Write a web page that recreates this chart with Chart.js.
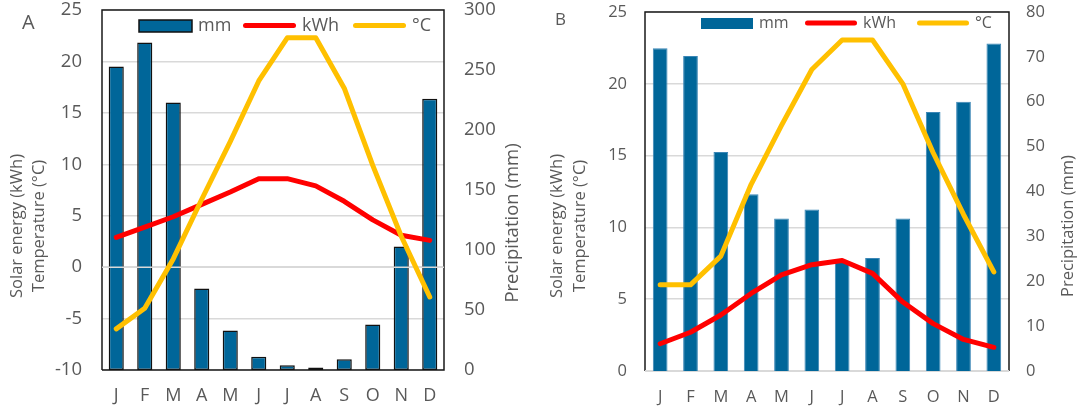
<!DOCTYPE html>
<html>
<head>
<meta charset="utf-8">
<script src="https://cdn.jsdelivr.net/npm/chart.js@4.4.1/dist/chart.umd.min.js"></script>
<style>
  html, body { margin: 0; padding: 0; background: #fff; }
  #wrap { position: relative; width: 1085px; height: 412px; overflow: hidden; }
  .panel { position: absolute; top: 0; height: 412px; }
  #pa { left: 0; width: 540px; }
  #pb { left: 540px; width: 545px; }
  .tag { position: absolute; color: #595959; font-family: "Open Sans", sans-serif; line-height: normal; }
</style>
</head>
<body>
<div id="wrap">
  <div class="panel" id="pa"><canvas id="ca" width="540" height="412"></canvas></div>
  <div class="panel" id="pb"><canvas id="cb" width="545" height="412"></canvas></div>
  <div class="tag" style="left:22px;top:8px;font-size:20px;">A</div>
  <div class="tag" style="left:555px;top:7px;font-size:17px;">B</div>
</div>
<script>
// Monthly climate data for two sites
const months = ['J', 'F', 'M', 'A', 'M', 'J', 'J', 'A', 'S', 'O', 'N', 'D'];

// Site A
const precipA = [253, 273, 223, 68, 33, 11, 4, 2, 9, 38, 103, 226];
const solarA  = [2.9, 3.9, 4.9, 6.1, 7.3, 8.6, 8.6, 7.9, 6.4, 4.6, 3.1, 2.6];
const tempA   = [-6.0, -4.0, 0.8, 6.6, 12.2, 18.1, 22.3, 22.3, 17.4, 9.9, 3.0, -2.9];

// Site B
const precipB = [71.9, 70.2, 48.8, 39.4, 34.0, 36.0, 24.5, 25.2, 34.0, 57.7, 60.0, 73.0];
const solarB  = [1.9, 2.7, 3.9, 5.4, 6.7, 7.4, 7.7, 6.8, 4.8, 3.3, 2.2, 1.65];
const tempB   = [6.0, 6.0, 8.0, 13.0, 17.1, 21.0, 23.05, 23.05, 20.0, 15.2, 10.9, 6.9];

// Labels
const seriesNames = ['mm', 'kWh', '°C'];
const leftTitle = ['Solar energy (kWh)', 'Temperature (°C)'];
const rightTitle = ['Precipitation (mm)'];

const TEXT = '#595959';
const GRID = '#d9d9d9';
const BAR = '#006699';
const RED = '#ff0000';
const GOLD = '#ffc000';
const FONT = '"Open Sans", sans-serif';

// Legend drawn inside the plot area, at the top
const legendInside = {
  id: 'legendInside',
  afterDraw(chart, args, opts) {
    const ctx = chart.ctx;
    const ds = chart.data.datasets;
    ctx.save();
    ctx.font = opts.size + 'px ' + FONT;
    ctx.textBaseline = 'middle';
    opts.xs.forEach((x, i) => {
      const d = ds[i];
      const y = opts.y;
      if (d.type === 'bar') {
        ctx.fillStyle = d.backgroundColor;
        ctx.fillRect(x, y - opts.boxH / 2, opts.swatch, opts.boxH);
        if (opts.boxBorder) {
          ctx.strokeStyle = opts.boxBorder;
          ctx.lineWidth = 1.5;
          ctx.strokeRect(x, y - opts.boxH / 2, opts.swatch, opts.boxH);
        }
      } else {
        ctx.strokeStyle = d.borderColor;
        ctx.lineWidth = d.borderWidth;
        ctx.lineCap = 'round';
        ctx.beginPath();
        ctx.moveTo(x + 2.5, y - 0.5);
        ctx.lineTo(x + opts.swatch - 2.5, y - 0.5);
        ctx.stroke();
      }
      ctx.fillStyle = TEXT;
      ctx.fillText(d.label, x + opts.swatch + 6, y);
    });
    ctx.restore();
  }
};

// Rotated axis titles
const sideTitles = {
  id: 'sideTitles',
  afterDraw(chart, args, opts) {
    const ctx = chart.ctx;
    opts.items.forEach(t => {
      ctx.save();
      ctx.font = t.size + 'px ' + FONT;
      ctx.fillStyle = TEXT;
      ctx.textAlign = 'center';
      ctx.textBaseline = 'middle';
      t.lines.forEach((line, i) => {
        ctx.save();
        ctx.translate(t.x[i], t.y);
        ctx.rotate(-Math.PI / 2);
        ctx.fillText(line, 0, 0);
        ctx.restore();
      });
      ctx.restore();
    });
  }
};

// Plot frame and the horizontal axis line at zero
const plotFrame = {
  id: 'plotFrame',
  beforeDatasetsDraw(chart, args, opts) {
    const { ctx, chartArea: a } = chart;
    ctx.save();
    ctx.lineWidth = 1.5;
    ctx.strokeStyle = opts.color;
    ctx.beginPath();
    ctx.moveTo(a.left, a.bottom);
    ctx.lineTo(a.left, a.top);
    ctx.lineTo(a.right, a.top);
    ctx.lineTo(a.right, a.bottom);
    if (opts.closeBottom) ctx.lineTo(a.left, a.bottom);
    ctx.stroke();
    if (!opts.closeBottom) {
      ctx.strokeStyle = GRID;
      ctx.lineWidth = 2;
      ctx.beginPath();
      ctx.moveTo(a.left, a.bottom);
      ctx.lineTo(a.right, a.bottom);
      ctx.stroke();
    }
    ctx.restore();
  },
  afterDatasetDraw(chart, args, opts) {
    if (!opts.zeroLine || args.meta.type !== 'bar') return;
    const { ctx, chartArea: a } = chart;
    const y = chart.scales.y.getPixelForValue(0);
    ctx.save();
    ctx.strokeStyle = GRID;
    ctx.lineWidth = 1.5;
    ctx.beginPath();
    ctx.moveTo(a.left, y);
    ctx.lineTo(a.right, y);
    ctx.stroke();
    ctx.restore();
  }
};

// Fixed axis sizes, without the extra room Chart.js reserves for edge labels
function fixSize(prop, value) {
  return s => {
    s[prop] = value;
    s.paddingTop = 0; s.paddingBottom = 0;
    s.paddingLeft = 0; s.paddingRight = 0;
  };
}

function buildChart(canvasId, cfg) {
  const lineDs = (label, data, color, order) => ({
    type: 'line', label, data, yAxisID: 'y',
    borderColor: color, backgroundColor: color, borderWidth: 5,
    borderCapStyle: 'round', borderJoinStyle: 'round',
    pointRadius: 0, tension: 0, order
  });
  return new Chart(document.getElementById(canvasId), {
    data: {
      labels: months,
      datasets: [
        {
          type: 'bar', label: seriesNames[0], data: cfg.precip, yAxisID: 'y1',
          backgroundColor: BAR, borderColor: cfg.barBorder, borderWidth: cfg.barBorderWidth,
          borderSkipped: cfg.barBorderWidth > 1 ? false : 'start',
          categoryPercentage: 1, barPercentage: cfg.barPct, order: 3
        },
        lineDs(seriesNames[1], cfg.solar, RED, 2),
        lineDs(seriesNames[2], cfg.temp, GOLD, 1)
      ]
    },
    options: {
      responsive: false,
      devicePixelRatio: 1,
      animation: false,
      layout: { padding: { top: cfg.top, left: 0, right: 0, bottom: 0 } },
      plugins: {
        legend: { display: false },
        tooltip: { enabled: false },
        legendInside: cfg.legend,
        sideTitles: { items: cfg.titles },
        plotFrame: { color: '#1a1a1a', closeBottom: cfg.closeBottom, zeroLine: cfg.zeroLine }
      },
      scales: {
        x: {
          grid: { display: false, drawTicks: false },
          border: { display: false },
          ticks: { color: TEXT, font: { family: FONT, size: cfg.xSize }, padding: cfg.xPad, maxRotation: 0 },
          afterFit: fixSize('height', 412 - cfg.bottom)
        },
        y: {
          position: 'left', min: cfg.yMin, max: cfg.yMax,
          grid: { color: GRID, lineWidth: 1.5, drawTicks: false },
          border: { display: false },
          ticks: { stepSize: cfg.yStep, color: TEXT, font: { family: FONT, size: cfg.ySize }, padding: cfg.yPad },
          afterFit: fixSize('width', cfg.left)
        },
        y1: {
          position: 'right', min: 0, max: cfg.y1Max,
          grid: { display: false, drawTicks: false },
          border: { display: false },
          ticks: { stepSize: cfg.y1Step, color: TEXT, font: { family: FONT, size: cfg.y1Size }, padding: cfg.y1Pad },
          afterFit: fixSize('width', cfg.width - cfg.right)
        }
      }
    },
    plugins: [plotFrame, legendInside, sideTitles]
  });
}

buildChart('ca', {
  precip: precipA, solar: solarA, temp: tempA,
  width: 540, left: 102, right: 444, top: 10, bottom: 370,
  yMin: -10, yMax: 25, yStep: 5, y1Max: 300, y1Step: 50,
  xSize: 18, ySize: 18.5, y1Size: 18.5, xPad: 15, yPad: 20, y1Pad: 20,
  barPct: 0.53, barBorder: '#111111', barBorderWidth: 1.5,
  closeBottom: true, zeroLine: true,
  legend: { xs: [139, 243, 353], y: 26, size: 18, swatch: 53, boxH: 12, boxBorder: '#111111' },
  titles: [
    { lines: leftTitle, x: [17, 39], y: 226, size: 16.5 },
    { lines: rightTitle, x: [513], y: 223, size: 18.5 }
  ]
});

buildChart('cb', {
  precip: precipB, solar: solarB, temp: tempB,
  width: 545, left: 105, right: 469, top: 12, bottom: 371,
  yMin: 0, yMax: 25, yStep: 5, y1Max: 80, y1Step: 10,
  xSize: 16.5, ySize: 16.5, y1Size: 16.5, xPad: 16, yPad: 18, y1Pad: 17,
  barPct: 0.485, barBorder: '#3a86b6', barBorderWidth: 1,
  closeBottom: false, zeroLine: false,
  legend: { xs: [161, 265, 377], y: 23.5, size: 16, swatch: 52, boxH: 11, boxBorder: null },
  titles: [
    { lines: leftTitle, x: [17, 40], y: 226, size: 16.5 },
    { lines: rightTitle, x: [528], y: 226, size: 16.5 }
  ]
});
</script>
</body>
</html>
